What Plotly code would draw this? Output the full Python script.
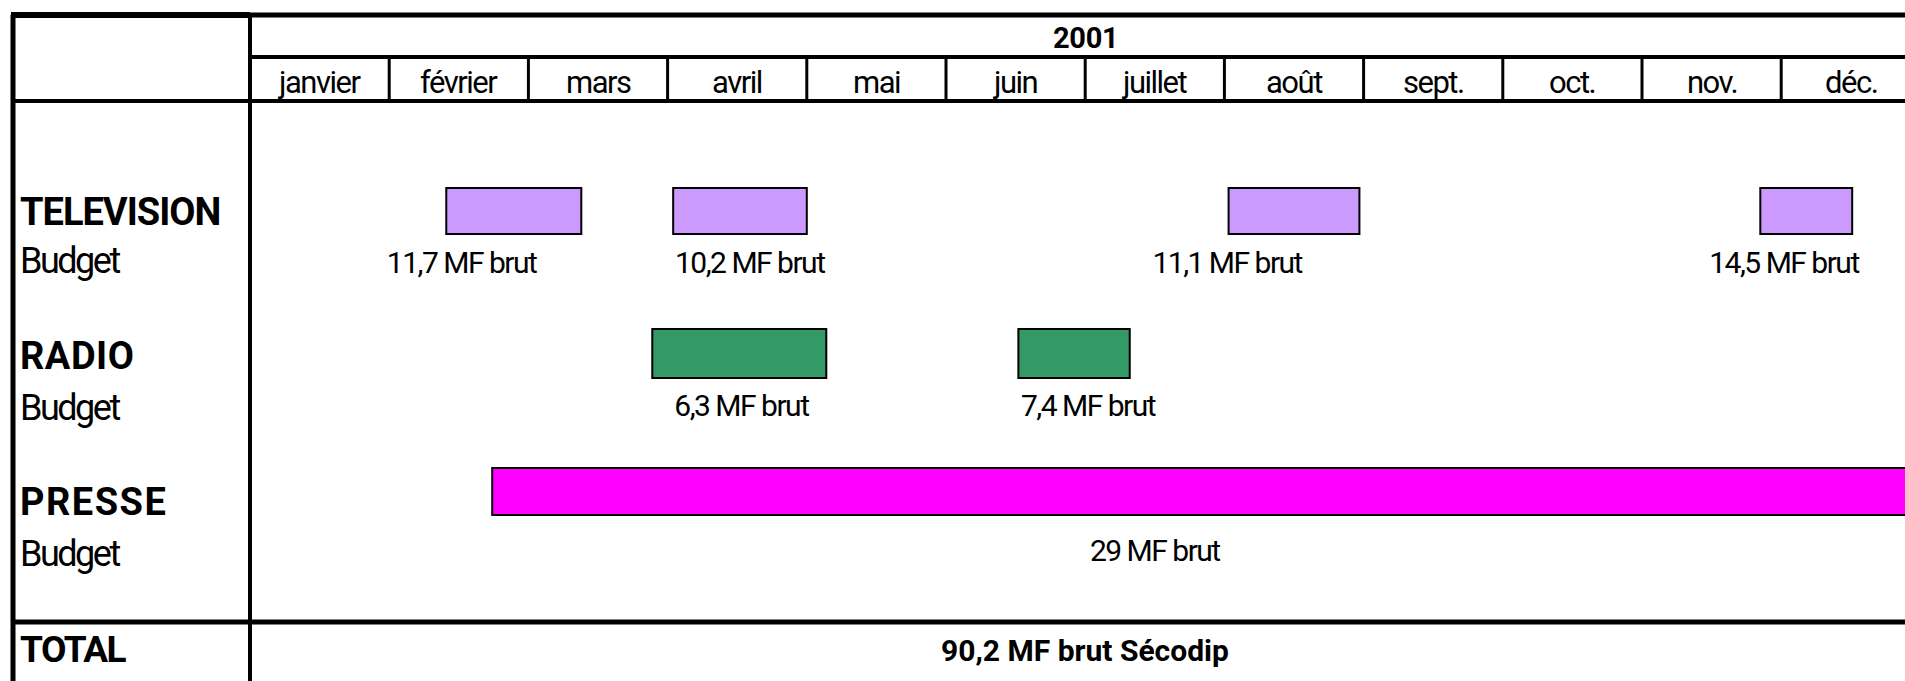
import plotly.graph_objects as go

# ---------------- data ----------------
year_label = "2001"
months = ["janvier", "février", "mars", "avril", "mai", "juin",
          "juillet", "août", "sept.", "oct.", "nov.", "déc."]

media = ["TELEVISION", "RADIO", "PRESSE"]
row_sub = "Budget"
total_name = "TOTAL"
total_text = "90,2 MF brut Sécodip"

# flight periods, in months from 1 January (0 = 1 Jan, 12 = 31 Dec)
tv_start = [1.41, 3.04, 7.03, 10.85]
tv_end = [2.38, 4.00, 7.97, 11.51]
tv_labels = ["11,7 MF brut", "10,2 MF brut", "11,1 MF brut", "14,5 MF brut"]
tv_label_pos = [1.52, 3.59, 7.02, 11.02]

radio_start = [2.89, 5.52]
radio_end = [4.14, 6.32]
radio_labels = ["6,3 MF brut", "7,4 MF brut"]
radio_label_pos = [3.53, 6.02]

presse_start = [1.74]
presse_end = [12.0]
presse_labels = ["29 MF brut"]
presse_label_pos = [6.50]

# ---------------- layout constants (pixels) ----------------
W, H = 1905, 681
X0 = 250            # left edge of the month grid
MONTH_W = 139.2     # pixel width of one month cell
LEFT = 13
TOP = 15
Y_MID = 57
Y_HEAD = 101
Y_TOTAL = 622

FONT = "Roboto, Liberation Sans, sans-serif"


def tight(txt, ls, bold=False):
    """Wrap text in a span with adjusted letter spacing (condensed look)."""
    inner = "<b>%s</b>" % txt if bold else txt
    return '<span style="letter-spacing:%spx">%s</span>' % (ls, inner)


rows = {
    "TELEVISION": dict(bar_y=211, bar_h=46, lab_y=265, title_y=212, sub_y=261,
                       title_ls=-1.0, color="#CC99FF"),
    "RADIO": dict(bar_y=353.5, bar_h=49, lab_y=408, title_y=356, sub_y=408,
                  title_ls=0.5, color="#339966"),
    "PRESSE": dict(bar_y=491.5, bar_h=47, lab_y=553, title_y=502, sub_y=554,
                   title_ls=1.5, color="#FF00FF"),
}
series = {
    "TELEVISION": (tv_start, tv_end, tv_labels, tv_label_pos),
    "RADIO": (radio_start, radio_end, radio_labels, radio_label_pos),
    "PRESSE": (presse_start, presse_end, presse_labels, presse_label_pos),
}

fig = go.Figure()

for name in media:
    st, en, labs, lpos = series[name]
    r = rows[name]
    fig.add_trace(go.Bar(
        orientation="h",
        base=st,
        x=[e - s for s, e in zip(st, en)],
        y=[r["bar_y"]] * len(st),
        width=r["bar_h"],
        marker=dict(color=r["color"], line=dict(color="black", width=2)),
        showlegend=False, hoverinfo="skip",
    ))
    fig.add_trace(go.Scatter(
        x=lpos, y=[r["lab_y"]] * len(lpos), mode="text",
        text=[tight(t, -1.5) for t in labs],
        textposition="middle center",
        textfont=dict(family=FONT, size=30, color="black"),
        showlegend=False, hoverinfo="skip",
    ))

ann = []
ann.append(dict(x=6.0, y=(TOP + Y_MID) / 2 + 1.5, xref="x", yref="y",
                text=tight(year_label, -0.3, True), showarrow=False,
                font=dict(family=FONT, size=29, color="black")))
for i, m in enumerate(months):
    ann.append(dict(x=i + 0.5, y=82, xref="x", yref="y", text=tight(m, -1.5),
                    showarrow=False, font=dict(family=FONT, size=31, color="black")))
for name in media:
    r = rows[name]
    ann.append(dict(x=18 / W, y=r["title_y"], xref="paper", yref="y", xanchor="left",
                    text=tight(name, r["title_ls"], True), showarrow=False,
                    font=dict(family=FONT, size=38, color="black")))
    ann.append(dict(x=18 / W, y=r["sub_y"], xref="paper", yref="y", xanchor="left",
                    text=tight(row_sub, -2.5), showarrow=False,
                    font=dict(family=FONT, size=36, color="black")))
ann.append(dict(x=18 / W, y=649, xref="paper", yref="y", xanchor="left",
                text=tight(total_name, -1.5, True), showarrow=False,
                font=dict(family=FONT, size=37, color="black")))
ann.append(dict(x=6.0, y=650, xref="x", yref="y", text=tight(total_text, 0, True),
                showarrow=False, font=dict(family=FONT, size=30, color="black")))

shapes = []
def hline(x0, x1, y, w):
    shapes.append(dict(type="line", xref="paper", yref="y", x0=x0 / W, x1=x1 / W,
                       y0=y, y1=y, line=dict(color="black", width=w), layer="above"))
def vline(x, y0, y1, w):
    shapes.append(dict(type="line", xref="paper", yref="y", x0=x / W, x1=x / W,
                       y0=y0, y1=y1, line=dict(color="black", width=w), layer="above"))

hline(LEFT - 2, X0, TOP, 6)
hline(X0, W, TOP, 5)
vline(LEFT, TOP, H, 5)
vline(X0, TOP, H, 4)
hline(X0, W, Y_MID, 4)
hline(LEFT, W, Y_HEAD, 4)
hline(LEFT, W, Y_TOTAL, 5)
for i in range(1, len(months)):
    shapes.append(dict(type="line", xref="x", yref="y", x0=i, x1=i, y0=Y_MID, y1=Y_HEAD,
                       line=dict(color="black", width=3), layer="above"))

fig.update_layout(
    width=W, height=H,
    margin=dict(l=0, r=0, t=0, b=0),
    paper_bgcolor="white", plot_bgcolor="white",
    barmode="overlay",
    xaxis=dict(domain=[X0 / W, 1], range=[0, (W - X0) / MONTH_W], visible=False,
               fixedrange=True),
    yaxis=dict(domain=[0, 1], range=[H, 0], visible=False, fixedrange=True),
    annotations=ann, shapes=shapes,
    showlegend=False,
)

fig.write_html("out.html")
